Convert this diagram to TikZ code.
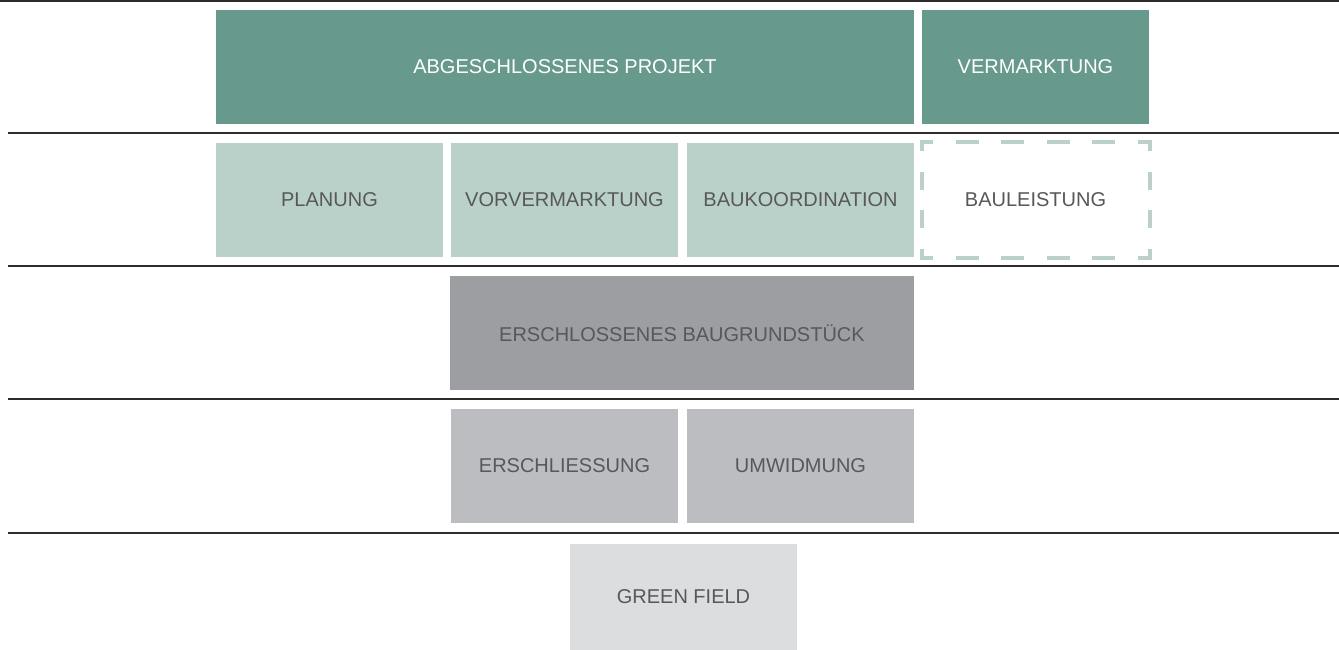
\documentclass[tikz,border=0pt]{standalone}
\usepackage{fontspec}
\setmainfont{Liberation Sans}
\usetikzlibrary{positioning}
\definecolor{zgreen}{RGB}{103, 154, 140}
\definecolor{zgreenlt}{RGB}{185, 209, 201}
\definecolor{zgreydk}{RGB}{157, 158, 162}
\definecolor{zgrey}{RGB}{188, 189, 193}
\definecolor{zgreylt}{RGB}{220, 221, 223}
\definecolor{ztext}{RGB}{88, 88, 90}
\definecolor{zrule}{RGB}{45, 45, 45}

\begin{document}
\begin{tikzpicture}[x=1pt, y=-1pt,
  blk/.style={rectangle, fill=#1, minimum width=227pt, minimum height=114pt,
              inner sep=0pt, outer sep=0pt, font=\fontsize{20}{24}\selectfont, text=ztext},
  rule/.style={zrule, line width=1.6pt},
  dashtb/.style={zgreenlt, line width=4pt, line cap=rect,
                 dash pattern=on 19pt off 26.6pt, dash phase=9.5pt},
  dashlr/.style={zgreenlt, line width=4pt, line cap=rect,
                 dash pattern=on 14pt off 24.67pt, dash phase=7pt}
]
\useasboundingbox (0,0) rectangle (1339,650);

% separating rules between the levels
\coordinate (r0a) at (0,1);   \coordinate (r0b) at (1339,1);
\coordinate (r1a) at (8,133); \coordinate (r1b) at (1339,133);
\coordinate (r2a) at (8,266); \coordinate (r2b) at (1339,266);
\coordinate (r3a) at (8,399); \coordinate (r3b) at (1339,399);
\coordinate (r4a) at (8,533); \coordinate (r4b) at (1339,533);
\foreach \i in {0,...,4} \draw[rule] (r\i a) -- (r\i b);

% level 1
\node[blk=zgreen, text=white, minimum width=698pt] (projekt) at (565,67) {ABGESCHLOSSENES PROJEKT};
\node[blk=zgreen, text=white] (vermarkt) at (1035.5,67) {VERMARKTUNG};

% level 2
\node[blk=zgreenlt] (planung) at (329.5,200) {PLANUNG};
\node[blk=zgreenlt] (vorverm) at (564.5,200) {VORVERMARKTUNG};
\node[blk=zgreenlt] (baukoord) at (800.5,200) {BAUKOORDINATION};
\node[blk=white, minimum width=228pt, minimum height=116pt] (bauleist) at (1035.5,200) {BAULEISTUNG};
\draw[dashtb] (bauleist.north west) -- (bauleist.north east);
\draw[dashtb] (bauleist.south west) -- (bauleist.south east);
\draw[dashlr] (bauleist.north west) -- (bauleist.south west);
\draw[dashlr] (bauleist.north east) -- (bauleist.south east);

% level 3
\node[blk=zgreydk, minimum width=464pt] (grund) at (682,333) {ERSCHLOSSENES BAUGRUNDSTÜCK};

% level 4
\node[blk=zgrey] (erschl) at (564.5,466) {ERSCHLIESSUNG};
\node[blk=zgrey] (umwid) at (800.5,466) {UMWIDMUNG};

% level 5
\node[blk=zgreylt, minimum height=106pt] (green) at (683.5,597) {GREEN FIELD};
\end{tikzpicture}
\end{document}
